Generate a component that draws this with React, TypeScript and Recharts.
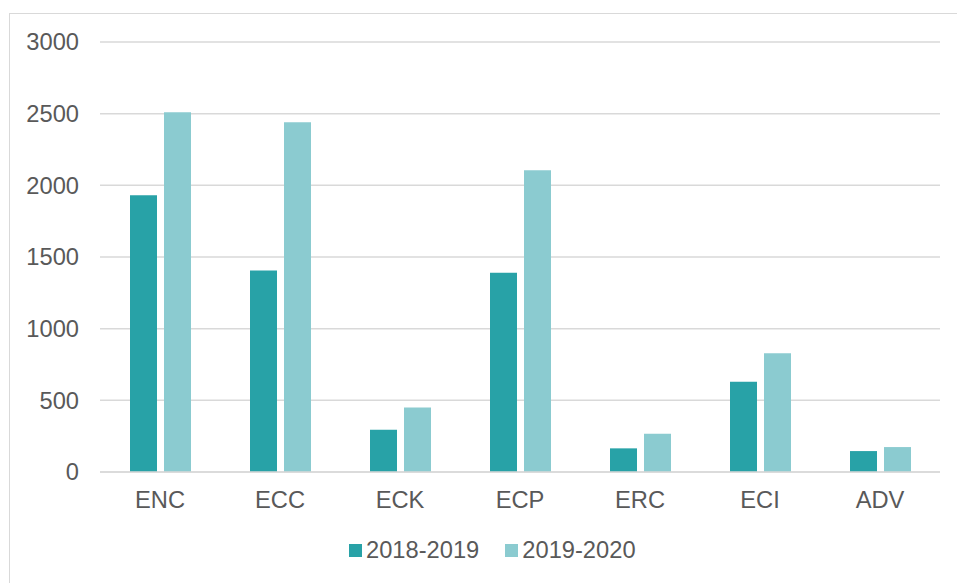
import React from "react";
import { BarChart, Bar, XAxis, YAxis, CartesianGrid, Legend } from "recharts";

const categories = ["ENC", "ECC", "ECK", "ECP", "ERC", "ECI", "ADV"];
const series2018 = [1930, 1405, 295, 1390, 165, 630, 146];
const series2019 = [2510, 2440, 450, 2105, 267, 828, 174];
const yTicks = [0, 500, 1000, 1500, 2000, 2500, 3000];
const seriesNames = ["2018-2019", "2019-2020"];

const DARK = "#28A2A7";
const LIGHT = "#8BCBD0";
const TEXT = "#595959";
const GRID = "#D9D9D9";
const FONT = "'Liberation Sans', Arial, sans-serif";

const data = categories.map((c, i) => ({ name: c, a: series2018[i], b: series2019[i] }));

const LegendContent = () => (
  <div style={{ display: "flex", alignItems: "center", fontFamily: FONT, fontSize: 23.7, color: TEXT, whiteSpace: "nowrap" }}>
    {[DARK, LIGHT].map((col, i) => (
      <div key={i} style={{ display: "flex", alignItems: "center", marginRight: i === 0 ? 26 : 0 }}>
        <div style={{ width: 13, height: 13, background: col, marginRight: 4 }} />
        <span style={{ lineHeight: "24px" }}>{seriesNames[i]}</span>
      </div>
    ))}
  </div>
);

export default function App() {
  return (
    <div style={{ position: "fixed", left: 0, top: 0, width: 957, height: 583, overflow: "hidden", background: "#fff" }}>
      <div style={{ position: "absolute", left: 9, top: 13, width: 980, height: 600, border: "1.5px solid #D9D9D9", boxSizing: "border-box" }} />
      <div style={{ position: "absolute", left: 0, top: 0 }}>
        <BarChart width={957} height={583} data={data} margin={{ top: 42, right: 17, left: 0, bottom: 0 }} barSize={27} barGap={7}>
          <CartesianGrid vertical={false} stroke={GRID} strokeWidth={1.5} />
          <XAxis
            dataKey="name"
            height={61}
            tickLine={false}
            tickSize={0}
            tickMargin={19}
            axisLine={{ stroke: GRID, strokeWidth: 1.5 }}
            tick={{ fill: TEXT, fontSize: 23.7, fontFamily: FONT }}
            interval={0}
          />
          <YAxis
            width={100}
            domain={[0, 3000]}
            ticks={yTicks}
            tickLine={false}
            tickSize={0}
            tickMargin={21}
            axisLine={false}
            tick={{ fill: TEXT, fontSize: 23.7, fontFamily: FONT }}
          />
          <Legend verticalAlign="bottom" height={50} content={<LegendContent />} wrapperStyle={{ left: 349, top: 538, width: "auto" }} />
          <Bar dataKey="a" name={seriesNames[0]} fill={DARK} isAnimationActive={false} />
          <Bar dataKey="b" name={seriesNames[1]} fill={LIGHT} isAnimationActive={false} />
        </BarChart>
      </div>
    </div>
  );
}
